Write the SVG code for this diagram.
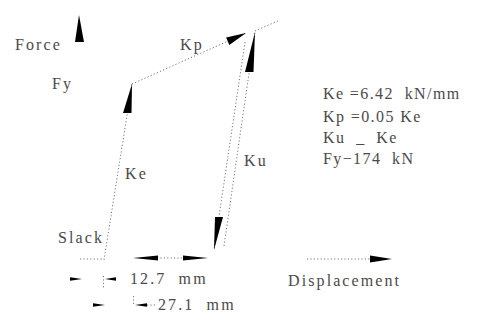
<svg xmlns="http://www.w3.org/2000/svg" width="486" height="322" viewBox="0 0 486 322">
<style>
text{font-family:"Liberation Serif","DejaVu Serif",serif;font-size:16px;fill:#4a4a4a;letter-spacing:2.1px;white-space:pre}
#legend text{letter-spacing:1.4px}
.d{fill:none;stroke:#777;stroke-width:1;stroke-dasharray:1.2 2.2}
.h{fill:#000;stroke:none}
</style>
<rect width="486" height="322" fill="#fff"/>
<g id="connectors">
<line class="d" x1="104" y1="260" x2="132" y2="84"/>
<line class="d" x1="132" y1="84" x2="246" y2="33"/>
<line class="d" x1="255" y1="31" x2="280" y2="20"/>
<line class="d" x1="245" y1="42" x2="214" y2="250"/>
<line class="d" x1="224" y1="246" x2="255" y2="32"/>
<line class="d" x1="80" y1="259" x2="103" y2="259"/>
<line class="d" x1="157" y1="258" x2="183" y2="258"/>
<line class="d" x1="307" y1="259" x2="372" y2="259"/>
<line class="d" x1="103.5" y1="276" x2="103.5" y2="288"/>
<line class="d" x1="133.5" y1="296" x2="133.5" y2="306"/>
<line class="d" x1="147" y1="305" x2="157" y2="305"/>
<polygon class="h" points="79,15 75,42 84,42"/>
<polygon class="h" points="132,84 123,113 131.5,113"/>
<polygon class="h" points="246,33 229.3,44.9 226.1,37.5"/>
<polygon class="h" points="255,32 245,72 253.5,72"/>
<polygon class="h" points="214,250 215,217 223,217"/>
<polygon class="h" points="133,258 158,255.5 158,260.5"/>
<polygon class="h" points="208,258 183,255.5 183,260.5"/>
<polygon class="h" points="392,259 370,255.5 370,262.5"/>
<polygon class="h" points="82,279 70,277.2 70,280.8"/>
<polygon class="h" points="105,279 116,277.2 116,280.8"/>
<polygon class="h" points="105,305 93,303.2 93,306.8"/>
<polygon class="h" points="135,305 147,303.2 147,306.8"/>
</g>
<g id="axis-labels">
<text x="15" y="50">Force</text>
<text x="52" y="89">Fy</text>
<text x="288" y="286">Displacement</text>
</g>
<g id="curve-labels">
<text x="180" y="50">Kp</text>
<text x="125" y="179">Ke</text>
<text x="244" y="166">Ku</text>
<text x="58" y="243">Slack</text>
</g>
<g id="dimensions">
<text x="130" y="284">12.7  mm</text>
<text x="158" y="310">27.1  mm</text>
</g>
<g id="legend">
<text x="323" y="99">Ke =6.42  kN/mm</text>
<text x="323" y="122">Kp =0.05 Ke</text>
<text x="323" y="143">Ku  _  Ke</text>
<text x="323" y="164">Fy−174  kN</text>
</g>
</svg>
